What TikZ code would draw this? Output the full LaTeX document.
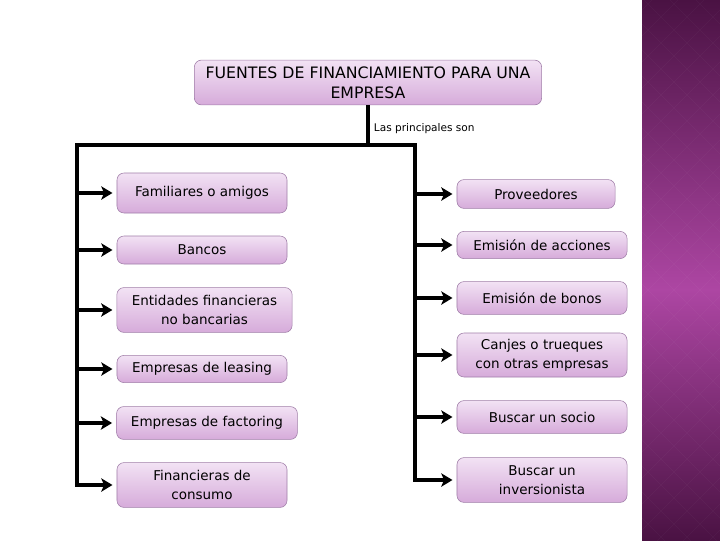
\documentclass[tikz,border=0pt]{standalone}
\usepackage{fontspec}
\setmainfont{DejaVu Sans}
\usetikzlibrary{arrows.meta,positioning,calc}
\definecolor{cajaarriba}{HTML}{F2E2F4}
\definecolor{cajaabajo}{HTML}{D6ABDA}
\definecolor{cajaborde}{HTML}{A07EA8}
\definecolor{franjaoscura}{HTML}{4A1243}
\definecolor{franjaclara}{HTML}{AD46A3}
\tikzset{
  caja/.style={draw=cajaborde, rounded corners=5pt, top color=cajaarriba,
    bottom color=cajaabajo, align=center, inner sep=2pt,
    font=\fontsize{9.6}{13.5}\selectfont, minimum width=4.25cm},
  tronco/.style={line width=2.6pt, line join=miter},
  flecha/.style={tronco, -{Stealth[length=8pt,width=9.5pt,inset=2pt]}, shorten >=3pt}
}

\begin{document}
\begin{tikzpicture}[x=0.025cm, y=-0.025cm]
\useasboundingbox (0,0) rectangle (720,540);
\fill[white] (0,0) rectangle (720,540);

% Franja lateral
\shade[top color=franjaoscura, bottom color=franjaclara] (642,0) rectangle (720,290);
\shade[top color=franjaclara, bottom color=franjaoscura] (642,289) rectangle (720,540);
\begin{scope}
  \clip (642,0) rectangle (720,540);
  \foreach \k in {0,26,...,780} {
    \draw[white,opacity=0.035] (600,\k) -- (800,\k-200);
    \draw[white,opacity=0.035] (600,\k-200) -- (800,\k);
  }
\end{scope}

% Titulo
\node[caja, minimum width=8.68cm, minimum height=1.12cm,
  font=\fontsize{11.2}{14}\selectfont] (titulo) at (368,82.5)
  {FUENTES DE FINANCIAMIENTO PARA UNA\\EMPRESA};
\node[font=\fontsize{7.5}{9}\selectfont, anchor=west] (etiq) at (369,129) {Las principales son};

% Fuentes a la izquierda
\node[caja, minimum height=1cm] (fam) at (202,193) {Familiares o amigos};
\node[caja, minimum height=0.7cm] (ban) at (202,250) {Bancos};
\node[caja, minimum width=4.38cm, minimum height=1.12cm] (ent) at (204.5,310)
  {Entidades financieras\\no bancarias};
\node[caja, minimum height=0.68cm] (lea) at (202,369) {Empresas de leasing};
\node[caja, minimum width=4.52cm, minimum height=0.82cm] (fac) at (207,423) {Empresas de factoring};
\node[caja, minimum height=1.12cm] (fin) at (202,485) {Financieras de\\consumo};

% Fuentes a la derecha
\node[caja, minimum width=3.95cm, minimum height=0.72cm] (pro) at (536,194) {Proveedores};
\node[caja, minimum height=0.68cm] (acc) at (542,245) {Emisión de acciones};
\node[caja, minimum height=0.82cm] (bon) at (542,298) {Emisión de bonos};
\node[caja, minimum height=1.1cm] (can) at (542,355) {Canjes o trueques\\con otras empresas};
\node[caja, minimum height=0.82cm] (soc) at (542,417) {Buscar un socio};
\node[caja, minimum height=1.12cm] (inv) at (542,480) {Buscar un\\inversionista};

% Conectores
\coordinate (ltop) at (77,145);
\coordinate (rtop) at (415,145);
\coordinate (mtop) at (titulo.south |- ltop);
\draw[tronco] (titulo.south) -- (mtop);
\draw[flecha] (mtop) -- (ltop) -- (ltop |- fin.west) -- (fin.west);
\draw[flecha] (mtop) -- (rtop) -- (rtop |- inv.west) -- (inv.west);
\foreach \n in {fam,ban,ent,lea,fac} {
  \draw[flecha] (ltop |- \n.west) -- (\n.west);
}
\foreach \n in {pro,acc,bon,can,soc} {
  \draw[flecha] (rtop |- \n.west) -- (\n.west);
}
\end{tikzpicture}
\end{document}
